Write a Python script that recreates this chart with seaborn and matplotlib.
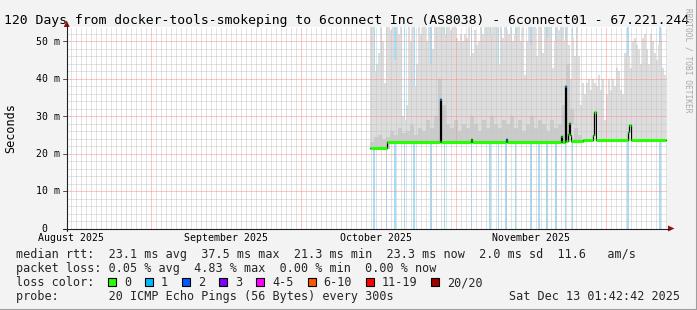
import numpy as np
import pandas as pd
import matplotlib
matplotlib.use("Agg")
import matplotlib.pyplot as plt
import matplotlib.dates as mdates
import matplotlib.transforms as mtransforms
from matplotlib.patches import Rectangle, Polygon
from matplotlib.lines import Line2D
import seaborn as sns

# ------------------------------------------------------------------ data
graph_start = "2025-08-15 01:42:42"
graph_end = "2025-12-13 01:42:42"
title_text = "120 Days from docker-tools-smokeping to 6connect Inc (AS8038) - 6connect01 - 67.221.244"
y_label = "Seconds"
watermark = "RRDTOOL / TOBI OETIKER"
month_labels = ["August 2025", "September 2025", "October 2025", "November 2025"]
month_label_dates = ["2025-08-16", "2025-09-16", "2025-10-16", "2025-11-16"]
y_tick_values = [0, 10, 20, 30, 40, 50]
y_tick_labels = [" 0", "10 m", "20 m", "30 m", "40 m", "50 m"]
y_max_ms = 53.87

# smoke (ping spread) upper envelope, days since graph_start
smoke_start_day = 60.66
smoke_step_day = 0.4
smoke_top_ms = [
    56, 56, 42, 44, 47, 56, 50, 39, 56, 56, 53, 56, 45, 56, 52, 56, 30, 29, 33, 56,
    50, 56, 38, 44, 56, 52, 56, 56, 50, 56, 44, 48, 56, 56, 56, 56, 56, 52, 56, 56,
    53, 56, 56, 51, 50, 52, 50, 52, 51, 56, 46, 47, 53, 49, 50, 56, 52, 56, 56, 56,
    52, 56, 56, 56, 44, 56, 51, 56, 53, 52, 56, 50, 52, 56, 56, 50, 56, 41, 50, 56,
    49, 56, 56, 46, 56, 56, 47, 56, 51, 56, 56, 43, 50, 56, 53, 56, 56, 50, 56, 49,
    40, 51, 46, 56, 46, 33, 39, 36, 39, 40, 37, 40, 39, 38, 41, 37, 40, 29, 36, 40,
    37, 40, 38, 43, 42, 37, 36, 47, 47, 46, 43, 50, 51, 49, 48, 44, 51, 52, 48, 44,
    52, 50, 47, 45, 49, 51, 43, 41,
]
# denser inner smoke (central pings)
mid_step_day = 0.8
smoke_mid_ms = [
    23, 24.5, 25, 24, 24.5, 26, 25, 27, 25.5, 26, 28, 25, 27, 26, 29, 27, 30, 40, 33, 28,
    27, 29, 26, 28, 27, 30, 28, 26, 29, 27, 30, 28, 27, 29, 28, 30, 27, 29, 26, 28,
    30, 27, 29, 28, 26, 29, 27, 28, 33, 44, 32, 27, 25, 24, 24, 24, 24, 24, 24, 24,
    24, 24, 24, 24, 24, 24, 24, 24, 24, 24, 24, 24, 24, 24,
]

# median rtt as steps: start day of each step, value, lost pings
median_start_day = [60.66, 64.0, 74.6, 74.9, 80.8, 81.0, 87.8, 88.0, 98.8, 99.0,
                    99.6, 99.8, 100.3, 100.5, 100.7, 100.9, 103.3, 105.3, 105.5, 105.9,
                    112.3, 112.5, 112.8]
median_ms = [21.6, 23.1, 34.7, 23.1, 23.8, 23.1, 23.8, 23.1, 24.6, 23.1,
             38.2, 23.3, 25.3, 28.2, 25.0, 23.3, 23.6, 25.0, 31.2, 23.6,
             25.7, 27.8, 23.6]
median_loss = [0, 0, 1, 0, 0, 0, 1, 0, 0, 0,
               1, 0, 0, 0, 0, 0, 0, 0, 0, 0,
               0, 0, 0]
median_end_day = 119.86

# periods with packet loss (1/20)
loss_day = [61.46, 63.96, 65.66, 67.56, 69.46, 72.86, 75.56, 80.96, 84.66, 86.36,
            87.86, 89.76, 92.86, 94.46, 96.06, 97.86, 99.76, 101.16, 112.32, 118.6]

loss_color_labels = ["0", "1", "2", "3", "4-5", "6-10", "11-19", "20/20"]
loss_colors = ["#26ff00", "#00b8ff", "#0059ff", "#7e00ff", "#ff00ff", "#ff5500", "#ff0000", "#a10000"]

rtt_line = "median rtt:  23.1 ms avg  37.5 ms max  21.3 ms min  23.3 ms now  2.0 ms sd  11.6   am/s"
loss_line = "packet loss: 0.05 % avg  4.83 % max  0.00 % min  0.00 % now"
probe_line = "probe:       20 ICMP Echo Pings (56 Bytes) every 300s"
stamp_text = "Sat Dec 13 01:42:42 2025"

# ------------------------------------------------------------------ style
sns.set_theme(style="white")
plt.rcParams["font.family"] = ["DejaVu Sans Mono", "DejaVu Sans"]
plt.rcParams["lines.scale_dashes"] = False

W, H = 697, 310
BG = "#f3f3f3"
fig = plt.figure(figsize=(W / 100, H / 100), dpi=100, facecolor=BG)


def P(x, y):
    return (x / W, 1 - y / H)


AX_L, AX_R, AX_T, AX_B = 66.7, 666.7, 27.0, 228.5
ax = fig.add_axes([AX_L / W, 1 - AX_B / H, (AX_R - AX_L) / W, (AX_B - AX_T) / H])
ax.set_facecolor("white")
for s in ax.spines.values():
    s.set_visible(False)
ax.tick_params(left=False, bottom=False, labelleft=False, labelbottom=False)

t0 = mdates.date2num(pd.Timestamp(graph_start))
t1 = mdates.date2num(pd.Timestamp(graph_end))
ax.set_xlim(t0, t1)
ax.set_ylim(0, y_max_ms)

# loss background bars
loss_x = t0 + np.array(loss_day)
ax.bar(loss_x, y_max_ms, width=0.36, bottom=0, color="#a6def5", linewidth=0, zorder=1)

# median step helper
med_edges = np.append(t0 + np.array(median_start_day), t0 + median_end_day)
med_vals = np.array(median_ms)


def median_at(x):
    idx = np.clip(np.searchsorted(med_edges, x, side="right") - 1, 0, len(med_vals) - 1)
    return med_vals[idx]


# smoke
st = t0 + smoke_start_day + smoke_step_day * np.arange(len(smoke_top_ms) + 1)
stop = np.append(smoke_top_ms, smoke_top_ms[-1])
sbot = median_at(st) - 0.3
ax.fill_between(st, sbot, stop, step="post", color="#dddddd", linewidth=0, zorder=2)

mt = t0 + smoke_start_day + mid_step_day * np.arange(len(smoke_mid_ms) + 1)
mtop = np.append(smoke_mid_ms, smoke_mid_ms[-1])
mbot = median_at(mt) - 0.3
ax.fill_between(mt, mbot, np.maximum(mtop, mbot), step="post", color="#cbcbcb", linewidth=0, zorder=2.1)

# grid (dotted 1px on / 1px off, drawn over smoke)
day_lines = mdates.date2num(pd.date_range("2025-08-16", graph_end, freq="D"))
month_lines = mdates.date2num(pd.date_range("2025-09-01", graph_end, freq="MS"))
minor_days = [d for d in day_lines if d not in set(month_lines)]
dot = (0, (0.72, 0.72))
minor_h = [v for v in range(2, 54, 2) if v % 10]
grid_sets = [
    (ax.vlines, minor_days, "#c6c6c6", 3),
    (ax.hlines, minor_h, "#c6c6c6", 3),
    (ax.vlines, month_lines, "#ff8c8c", 3.1),
    (ax.hlines, y_tick_values[1:], "#ff8c8c", 3.1),
]
for fn, pos, col, z in grid_sets:
    if fn == ax.vlines:
        lc = fn(pos, 0, y_max_ms, colors=col, linestyles=[dot], lw=0.72, zorder=z)
    else:
        lc = fn(pos, t0, t1, colors=col, linestyles=[dot], lw=0.72, zorder=z)
    lc.set_snap(True)

# median line: black connecting line, coloured by loss on top
sns.lineplot(x=med_edges, y=np.append(med_vals, med_vals[-1]), drawstyle="steps-post",
             color="black", linewidth=0.9, estimator=None, sort=False, ax=ax, zorder=4)
ax.hlines(med_vals, med_edges[:-1], med_edges[1:],
          colors=[loss_colors[l] for l in median_loss], lw=2.2, zorder=5)

# y tick labels and ticks
ylab_trans = mtransforms.offset_copy(
    mtransforms.blended_transform_factory(fig.transFigure, ax.transData), fig=fig, y=-3.4, units="dots")
for v, lab in zip(y_tick_values, y_tick_labels):
    fig.text(36 / W, v, lab, transform=ylab_trans, fontsize=7.1, ha="left", va="baseline", color="black")
    ax.plot([-3.5 / 600, 0], [v, v], transform=mtransforms.blended_transform_factory(ax.transAxes, ax.transData),
            color="#555555", lw=0.72, clip_on=False, zorder=6)

# month labels
xlab_trans = mtransforms.blended_transform_factory(ax.transData, fig.transFigure)
for d, lab in zip(month_label_dates, month_labels):
    ax.text(mdates.date2num(pd.Timestamp(d)), 1 - 241 / H, lab, transform=xlab_trans,
            fontsize=7.1, ha="center", va="baseline", color="black")

# axes lines with arrows
axis_c = "#222222"
arrow_c = "#9b1111"
fig.add_artist(Line2D([AX_L / W, AX_L / W], [1 - 231 / H, 1 - 24 / H], transform=fig.transFigure,
                      color=axis_c, lw=0.8))
fig.add_artist(Line2D([63 / W, 670 / W], [1 - AX_B / H, 1 - AX_B / H], transform=fig.transFigure,
                      color=axis_c, lw=0.8))
fig.add_artist(Polygon([P(AX_L - 3, 27), P(AX_L + 3, 27), P(AX_L, 20.5)], closed=True,
                       transform=fig.transFigure, color=arrow_c, lw=0))
fig.add_artist(Polygon([P(668, AX_B - 3), P(668, AX_B + 3), P(674.5, AX_B)], closed=True,
                       transform=fig.transFigure, color=arrow_c, lw=0))

# texts
fig.text(*P(4, 24), title_text, fontsize=9.45, ha="left", va="baseline", color="black")
fig.text(*P(11, 128), y_label, fontsize=8.5, rotation=90, ha="center", va="center", color="black")
fig.text(*P(688, 60), watermark, fontsize=5.7, rotation=270, ha="center", va="center", color="#a8a8a8")

LEG_FS = 8.5
cw = 7.11
fig.text(*P(16, 258), rtt_line, fontsize=LEG_FS, ha="left", va="baseline")
fig.text(*P(16, 272), loss_line, fontsize=LEG_FS, ha="left", va="baseline")
fig.text(*P(16, 286), "loss color:", fontsize=LEG_FS, ha="left", va="baseline")
x = 16 + 13 * cw - 0.3
for lab, col in zip(loss_color_labels, loss_colors):
    fig.add_artist(Rectangle(P(x, 286), 8 / W, 8 / H, transform=fig.transFigure,
                             facecolor=col, edgecolor="black", lw=0.8))
    fig.text(*P(x + 15.7, 286), lab, fontsize=LEG_FS, ha="left", va="baseline")
    x += 15.7 + cw * (len(lab) + 2)
fig.text(*P(16, 300), probe_line, fontsize=LEG_FS, ha="left", va="baseline")
fig.text(*P(680, 300), stamp_text, fontsize=LEG_FS, ha="right", va="baseline")

# frame shading
fig.add_artist(Line2D([0, 1], [0.5 / H, 0.5 / H], transform=fig.transFigure, color="#9e9e9e", lw=1.5))
fig.add_artist(Line2D([1 - 0.5 / W, 1 - 0.5 / W], [0, 1], transform=fig.transFigure, color="#9e9e9e", lw=1.5))

fig.savefig("out.png", dpi=100, facecolor=BG)
